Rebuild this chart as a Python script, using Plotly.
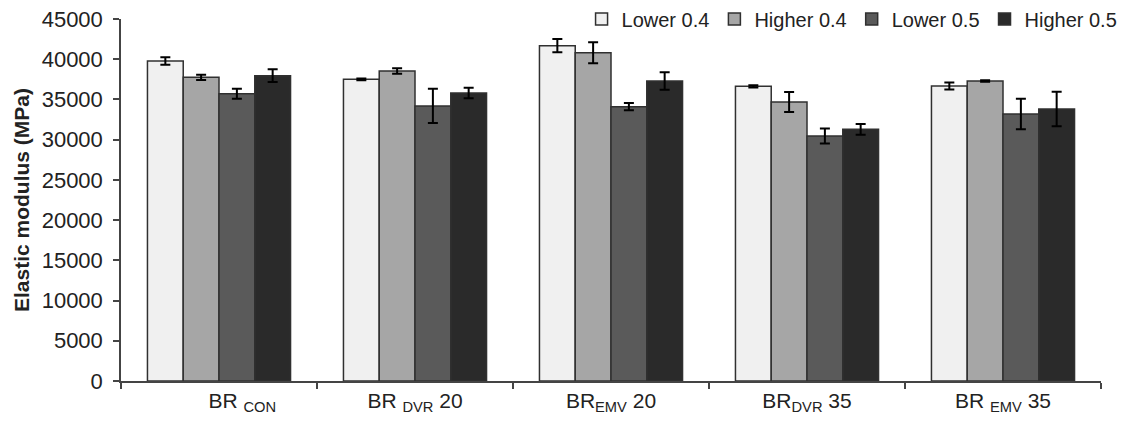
import plotly.graph_objects as go

categories = ["BR_CON", "BR_DVR 20", "BR_EMV 20", "BR_DVR 35", "BR_EMV 35"]
tick_labels = ["\u00a0\u00a0\u00a0\u00a0\u00a0\u00a0\u00a0\u00a0BR <sub>CON</sub>",
               "BR <sub>DVR</sub> 20", "BR<sub>EMV</sub> 20",
               "BR<sub>DVR</sub> 35", "BR <sub>EMV</sub> 35"]

series_names = ["Lower 0.4", "Higher 0.4", "Lower 0.5", "Higher 0.5"]
lower_04 = [39780, 37500, 41690, 36630, 36670]
higher_04 = [37750, 38540, 40810, 34680, 37290]
lower_05 = [35720, 34190, 34100, 30460, 33190]
higher_05 = [37950, 35800, 37290, 31280, 33810]

err_lower_04 = [480, 100, 830, 150, 430]
err_higher_04 = [330, 350, 1300, 1240, 100]
err_lower_05 = [620, 2130, 450, 930, 1900]
err_higher_05 = [790, 660, 1080, 680, 2150]

y_ticks = list(range(0, 45001, 5000))

colors = ["#f0f0f0", "#a6a6a6", "#5a5a5a", "#2a2a2a"]

values = [lower_04, higher_04, lower_05, higher_05]
errors = [err_lower_04, err_higher_04, err_lower_05, err_higher_05]

FONT = "Arial, 'Liberation Sans', sans-serif"

fig = go.Figure()
for name, vals, errs, col in zip(series_names, values, errors, colors):
    fig.add_trace(go.Bar(
        name=name, x=categories, y=vals,
        marker=dict(color=col, line=dict(color="#303030", width=1.5)),
        error_y=dict(type="data", array=errs, visible=True, color="black",
                     thickness=2, width=5),
    ))

fig.update_layout(
    width=1125, height=421,
    margin=dict(l=121, r=24, t=19, b=40, autoexpand=False),
    barmode="group", bargap=0.27, bargroupgap=0,
    plot_bgcolor="white", paper_bgcolor="white",
    font=dict(family=FONT, size=21, color="#222222"),
    showlegend=True,
    legend=dict(orientation="h", x=1.022, xanchor="right", y=1.0, yanchor="middle",
                font=dict(size=20), itemwidth=30, traceorder="normal",
                bgcolor="rgba(0,0,0,0)", tracegroupgap=0),
)
fig.update_yaxes(
    range=[0, 45000], tickvals=y_ticks, ticktext=[str(v) for v in y_ticks],
    showgrid=False, zeroline=False,
    showline=True, linecolor="#444444", linewidth=1.5,
    ticks="outside", ticklen=6, tickcolor="#444444", tickwidth=1.5,
    tickfont=dict(size=22), ticklabelstandoff=6,
    title=dict(text="<b>Elastic modulus (MPa)</b>", font=dict(size=21), standoff=6),
)
fig.update_xaxes(
    tickvals=categories, ticktext=tick_labels, tickson="boundaries",
    showgrid=False, showline=True, linecolor="#444444", linewidth=1.5,
    ticks="outside", ticklen=6, tickcolor="#444444", tickwidth=1.5,
    tickfont=dict(size=21),
)

fig.write_html("out.html")
